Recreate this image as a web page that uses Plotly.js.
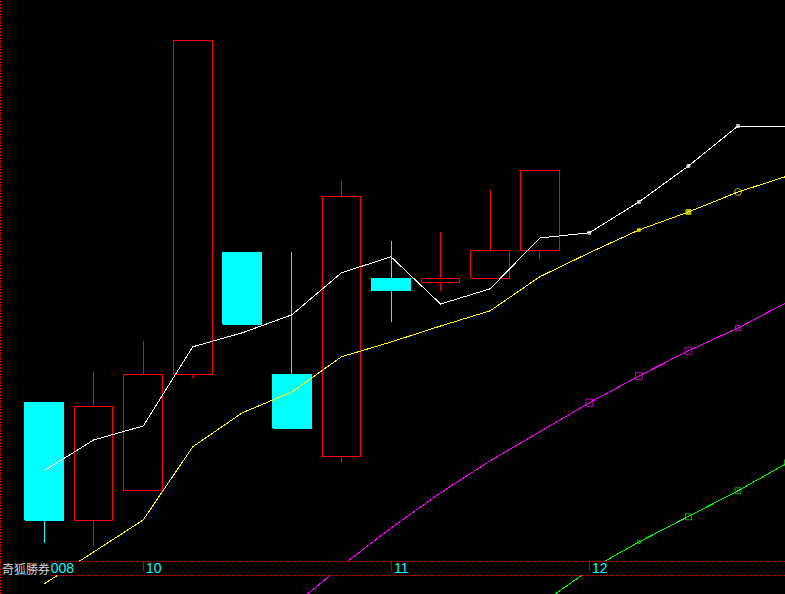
<!DOCTYPE html>
<html>
<head>
<meta charset="utf-8">
<script src="https://cdn.plot.ly/plotly-3.0.1.min.js"></script>
<style>
html,body{margin:0;padding:0;background:#000;}
#chart{width:785px;height:594px;}
#chart .js-line, #chart .js-fill, #chart .shapelayer path { shape-rendering: crispEdges; }
</style>
</head>
<body>
<div id="chart"></div>
<script>
// ---- data ----
var candleIdx = [0,1,2,3,4,5,6,7,8,9,10];
var openP  = [6.80, 3.85, 4.58, 7.48, 10.55, 7.50, 5.45, 9.88, 9.78, 9.90, 10.60];
var highP  = [6.80, 7.55, 8.33, 15.83, 10.55, 10.55, 12.33, 10.83, 11.05, 12.10, 12.58];
var lowP   = [3.28, 3.20, 4.58, 7.40, 8.75, 6.15, 5.28, 8.80, 9.58, 9.90, 10.38];
var closeP = [3.85, 6.68, 7.50, 15.83, 8.75, 6.15, 11.93, 9.58, 9.88, 10.58, 12.58];

var lineIdx = [0,1,2,3,4,5,6,7,8,9,10,11,12,13,14,15];
var whiteMA  = [5.08, 5.85, 6.20, 8.18, 8.53, 8.98, 10.03, 10.43, 9.25, 9.63, 10.90, 11.03, 11.80, 12.70, 13.70, 13.70];
var yellowMA = [2.25, 3.05, 3.85, 5.68, 6.53, 7.05, 7.93, 8.30, 8.70, 9.08, 9.93, 10.53, 11.10, 11.55, 12.05, 12.45];
var magentaIdx = [5,6,7,8,9,10,11,12,13,14,15];
var magentaMA  = [1.68, 2.70, 3.65, 4.53, 5.33, 6.05, 6.78, 7.45, 8.08, 8.65, 9.30];
var greenIdx = [10,11,12,13,14,15];
var greenMA  = [1.73, 2.60, 3.30, 3.93, 4.58, 5.28];

var tickIdx  = [2, 7, 11];
var tickText = ['10', '11', '12'];
var yearText = '2008';
var brandText = '奇狐勝券';

(function(){
// ---- build candle geometry from the data through the axes ----
var HALF = 0.39; // half body width, in index units
var upBx=[],upBy=[],dnBx=[],dnBy=[];
var upWx=[],upWy=[],dnWx=[],dnWy=[];
for (var i=0;i<candleIdx.length;i++){
  var o=openP[i],c=closeP[i],h=highP[i],l=lowP[i],x=candleIdx[i];
  var bTop=Math.max(o,c),bBot=Math.min(o,c);
  var isUp = c>=o;
  var bx = isUp?upBx:dnBx, by = isUp?upBy:dnBy;
  bx.push(x-HALF,x+HALF,x+HALF,x-HALF,x-HALF,null);
  by.push(bBot,bBot,bTop,bTop,bBot,null);
  var wx = isUp?upWx:dnWx, wy = isUp?upWy:dnWy;
  if (h>bTop){ wx.push(x,x,null); wy.push(h,bTop,null); }
  if (l<bBot){ wx.push(x,x,null); wy.push(bBot,l,null); }
}
var RED='#ff0000', CYAN='#00ffff';
var traces = [
  {type:'scatter',mode:'lines',x:upBx,y:upBy,fill:'toself',fillcolor:'#000000',line:{color:RED,width:1},hoverinfo:'skip',showlegend:false},
  {type:'scatter',mode:'lines',x:dnBx,y:dnBy,fill:'toself',fillcolor:CYAN,line:{color:CYAN,width:1},hoverinfo:'skip',showlegend:false},
  {type:'scatter',mode:'lines',x:upWx,y:upWy,line:{color:RED,width:1},hoverinfo:'skip',showlegend:false},
  {type:'scatter',mode:'lines',x:dnWx,y:dnWy,line:{color:CYAN,width:1},hoverinfo:'skip',showlegend:false},
  {type:'scatter',mode:'lines+markers',x:lineIdx,y:whiteMA,line:{color:'#ffffff',width:1},
    marker:{color:'#ffffff',symbol:'square',size:lineIdx.map(function(v){return v>=11&&v<=14?3:0;})},hoverinfo:'skip',showlegend:false},
  {type:'scatter',mode:'lines+markers',x:lineIdx,y:yellowMA,line:{color:'#ffff00',width:1},
    marker:{color:'#ffff00',symbol:lineIdx.map(function(v){return v===14?'circle-open':'square';}),size:lineIdx.map(function(v){return v===12?3:(v===13?5:(v===14?7:0));}),line:{color:'#ffff00',width:1}},hoverinfo:'skip',showlegend:false},
  {type:'scatter',mode:'lines+markers',x:magentaIdx,y:magentaMA,line:{color:'#ff00ff',width:1},
    marker:{color:'#ff00ff',symbol:'square-open',size:magentaIdx.map(function(v){return v>=11&&v<=14?(v===14?5:7):0;}),line:{color:'#ff00ff',width:1}},hoverinfo:'skip',showlegend:false},
  {type:'scatter',mode:'lines+markers',x:greenIdx,y:greenMA,line:{color:'#00ff00',width:1},
    marker:{color:'#00ff00',symbol:'square-open',size:greenIdx.map(function(v){return v===12?3:(v>=13?6:0);}),line:{color:'#00ff00',width:1}},hoverinfo:'skip',showlegend:false}
];

// ---- axis strip (overlay) ----
var W=785,H=594;
function py(px){return (H-px)/H;}
function pxX(px){return px/W;}
var DARKRED='#c00000';
var DOTS='2px,1px';
var shapes = [
  {type:'rect',xref:'paper',yref:'paper',x0:0,x1:1,y0:py(575),y1:py(561),fillcolor:'#000000',line:{width:0},layer:'above'},
  {type:'line',xref:'paper',yref:'paper',x0:0,x1:1,y0:py(561.5),y1:py(561.5),line:{color:DARKRED,width:1,dash:DOTS},layer:'above'},
  {type:'line',xref:'paper',yref:'paper',x0:0,x1:1,y0:py(575.5),y1:py(575.5),line:{color:DARKRED,width:1,dash:DOTS},layer:'above'},
  {type:'line',xref:'paper',yref:'paper',x0:pxX(0.5),x1:pxX(0.5),y0:0,y1:1,line:{color:DARKRED,width:1,dash:DOTS},layer:'above'}
];
var annotations = [];
for (var k=0;k<tickIdx.length;k++){
  shapes.push({type:'line',xref:'x',yref:'paper',x0:tickIdx[k],x1:tickIdx[k],y0:py(571),y1:py(561),line:{color:DARKRED,width:1},layer:'above'});
  annotations.push({xref:'x',yref:'paper',x:tickIdx[k],y:py(568),xanchor:'left',yanchor:'middle',xshift:1,showarrow:false,
    text:tickText[k],font:{family:'Liberation Sans Narrow, Liberation Sans, Arial',size:14,color:CYAN}});
}
annotations.push({xref:'paper',yref:'paper',x:pxX(41),y:py(568),xanchor:'left',yanchor:'middle',showarrow:false,
  text:yearText,font:{family:'Liberation Sans Narrow, Liberation Sans, Arial',size:14,color:CYAN}});
annotations.push({xref:'paper',yref:'paper',x:pxX(1),y:py(568),xanchor:'left',yanchor:'middle',showarrow:false,bgcolor:'#000000',borderpad:0,
  text:brandText,font:{family:'Noto Sans CJK TC, Noto Sans CJK SC',size:12,color:'#d8d8d8'}});

var layout = {
  width:W,height:H,
  margin:{l:0,r:0,t:0,b:0,pad:0},
  paper_bgcolor:'#000000',plot_bgcolor:'#000000',
  showlegend:false,
  xaxis:{range:[-0.888,14.948],showgrid:false,zeroline:false,showticklabels:false,ticks:'',showline:false,fixedrange:true},
  yaxis:{range:[2,16.85],showgrid:false,zeroline:false,showticklabels:false,ticks:'',showline:false,fixedrange:true},
  shapes:shapes,
  annotations:annotations,
  hovermode:false
};
Plotly.newPlot('chart',traces,layout,{displayModeBar:false,staticPlot:true});
})();
</script>
</body>
</html>
